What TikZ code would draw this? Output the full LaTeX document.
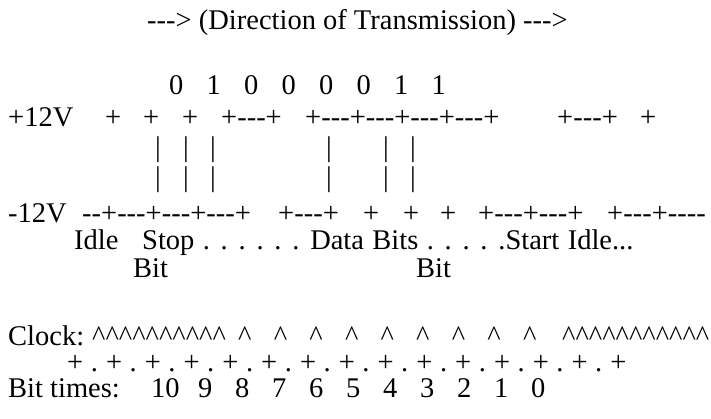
\documentclass[tikz,border=0pt]{standalone}
\usepackage{fontspec}
\setmainfont{Liberation Serif}[Ligatures=TeXOff]
\usepackage{tikz}
\usetikzlibrary{positioning}

\newcommand{\caretrun}[1]{\foreach \k in {1,...,#1}{\textasciicircum}}

\begin{document}
\begin{tikzpicture}[
        x=1pt, y=-1pt,
        every node/.style={font=\fontsize{28.5}{32}\selectfont},
        txt/.style={anchor=base west, inner sep=0pt, text height=0.68em, text depth=0.2em},
        bar/.style={anchor=base, inner sep=0pt}
    ]
        \useasboundingbox (0,0) rectangle (711,419);
        % Title
        \node[txt] (title) at (147,30) {---> (Direction of Transmission) --->};
        % Bit values
        \foreach \b [count=\i] in {0,1,0,0,0,0,1,1}
            \node[txt] (bit\i) at ({169+37.5*(\i-1)},95) {\b};
        % +12V level
        \node[txt] (hi) at (8,127) {+12V};
        \node[txt] (hi1) at (105,127) {+};
        \node[txt] (hi2) at (143,127) {+};
        \node[txt] (hi3) at (182,127) {+};
        \node[txt] (hi4) at (221,127) {+---+};
        \node[txt] (hi5) at (305,127) {+---+---+---+---+};
        \node[txt] (hi6) at (557,127) {+---+};
        \node[txt] (hi7) at (640,127) {+};
        % Edges
        \foreach \x [count=\i] in {158,186,213,329,386,413} {
            \node[bar] (upa\i) at (\x,157) {|};
            \node[bar] (upb\i) at (\x,187) {|};
        }
        % -12V level
        \node[txt] (lo) at (8,223) {-12V};
        \node[txt] (lo1) at (82,223) {--+---+---+---+};
        \node[txt] (lo2) at (278,223) {+---+};
        \node[txt] (lo3) at (363,223) {+};
        \node[txt] (lo4) at (403,223) {+};
        \node[txt] (lo5) at (440,223) {+};
        \node[txt] (lo6) at (478,223) {+---+---+};
        \node[txt] (lo7) at (607,223) {+---+----};
        % Labels
        \node[txt] (idle) at (74,250) {Idle};
        \node[txt] (stop) at (142,250) {\spaceskip=8.4pt Stop . . . . . . Data Bits . . . . .Start Idle...};
        \node[txt] (stopbit) at (133,277) {Bit};
        \node[txt] (startbit) at (416,277) {Bit};
        % Clock
        \node[txt] (clock) at (8,345) {Clock:};
        \node[txt] (ck0) at (92,345) {\caretrun{10}};
        \foreach \i in {1,...,9}
            \node[txt] (ck\i) at ({238+35.6*(\i-1)},345) {\textasciicircum};
        \node[txt] (ck10) at (562,345) {\caretrun{11}};
        % Ticks
        \foreach \i in {1,...,15}
            \node[txt] (tick\i) at ({67+38.8*(\i-1)},371) {+};
        \foreach \i in {1,...,14}
            \node[bar] (dot\i) at ({67+38.8*(\i-1)+27.4},371) {.};
        % Bit times
        \node[txt] (bittimes) at (8,397) {Bit times:};
        \node[txt] (bt10) at (151,397) {10};
        \foreach \n [count=\i] in {9,8,7,6,5,4,3,2,1,0}
            \node[txt] (bt\n) at ({198+37*(\i-1)},397) {\n};
\end{tikzpicture}
\end{document}
